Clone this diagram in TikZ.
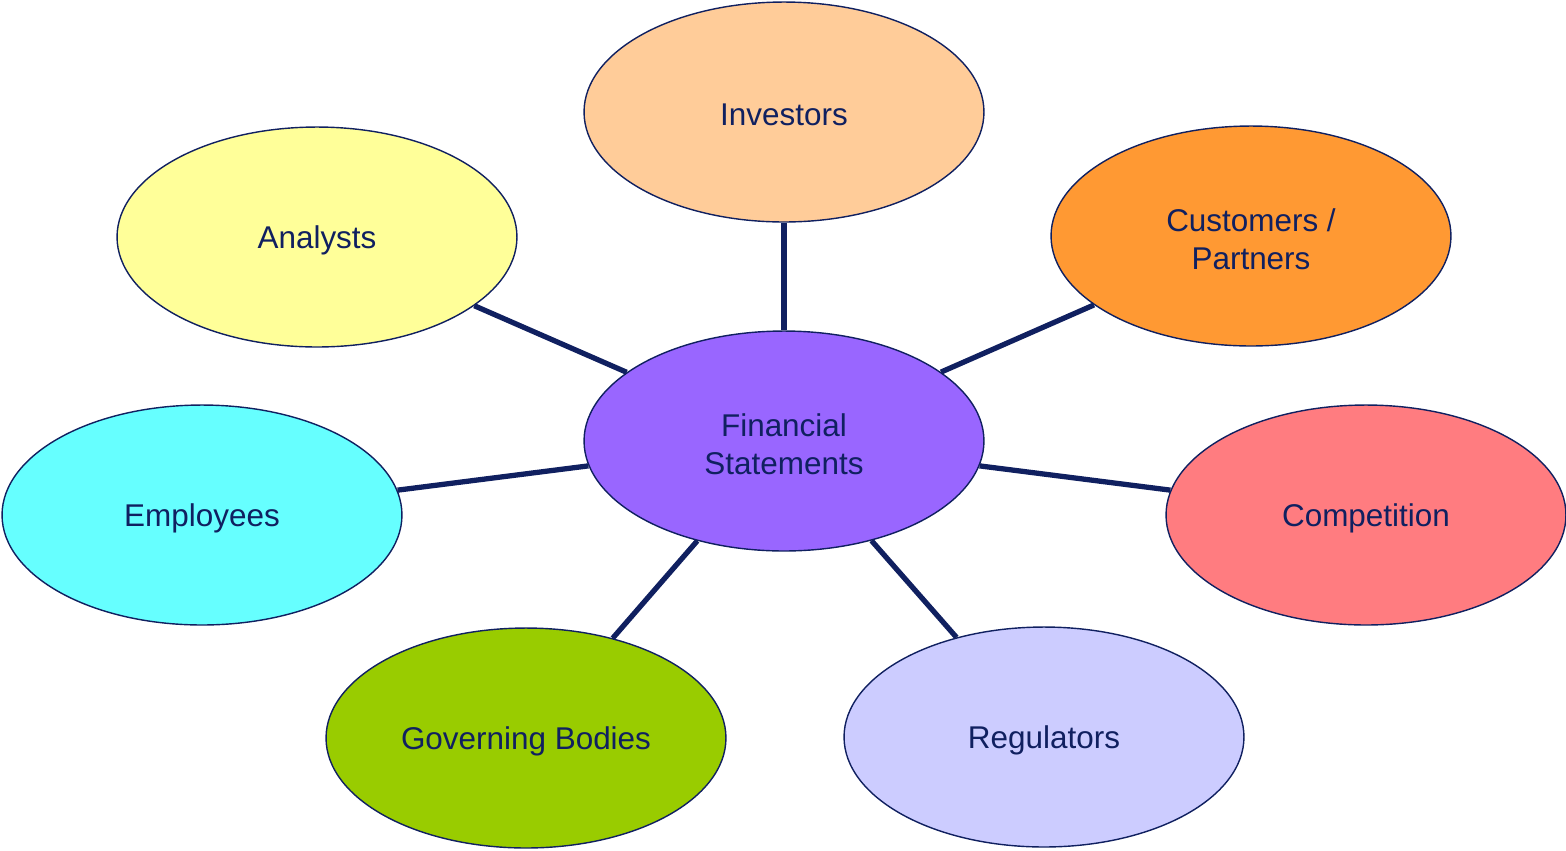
\documentclass[tikz,border=0pt]{standalone}
\usepackage{fontspec}
\setmainfont{Liberation Sans}
\usetikzlibrary{shapes.geometric}
\definecolor{navy}{HTML}{102060}
\definecolor{cInv}{HTML}{FFCC99}
\definecolor{cAna}{HTML}{FFFF99}
\definecolor{cCus}{HTML}{FF9933}
\definecolor{cEmp}{HTML}{66FFFF}
\definecolor{cFin}{HTML}{9966FF}
\definecolor{cCom}{HTML}{FF7C80}
\definecolor{cGov}{HTML}{99CC00}
\definecolor{cReg}{HTML}{CCCCFF}
\begin{document}
\begin{tikzpicture}[x=0.02cm,y=-0.02cm,
  bubble/.style={ellipse, draw=navy, line width=0.8pt, minimum width=8cm, minimum height=4.4cm,
    inner sep=0pt},
  caption/.style={text=navy, align=center, inner sep=0pt, yshift=-0.06cm,
    font=\fontsize{17.9}{21.6}\selectfont},
  link/.style={draw=navy, line width=3pt}]
\useasboundingbox (0,0) rectangle (1566,850);
% the bubbles
\node[bubble, fill=cFin] (fin) at (784,441) {};
\node[bubble, fill=cInv] (inv) at (784,112) {};
\node[bubble, fill=cAna] (ana) at (317,237) {};
\node[bubble, fill=cCus] (cus) at (1251,236) {};
\node[bubble, fill=cEmp] (emp) at (202,515) {};
\node[bubble, fill=cCom] (com) at (1366,515) {};
\node[bubble, fill=cGov] (gov) at (526,738) {};
\node[bubble, fill=cReg] (reg) at (1044,737) {};
% their captions
\node[caption] (finT) at (fin.center) {Financial\\Statements};
\node[caption] (invT) at (inv.center) {Investors};
\node[caption] (anaT) at (ana.center) {Analysts};
\node[caption] (cusT) at (cus.center) {Customers /\\Partners};
\node[caption] (empT) at (emp.center) {Employees};
\node[caption] (comT) at (com.center) {Competition};
\node[caption] (govT) at (gov.center) {Governing Bodies};
\node[caption] (regT) at (reg.center) {Regulators};
% spokes from the centre bubble
\foreach \n in {inv,ana,cus,emp,com,gov,reg}
  \draw[link] (fin) -- (\n);
\end{tikzpicture}
\end{document}
